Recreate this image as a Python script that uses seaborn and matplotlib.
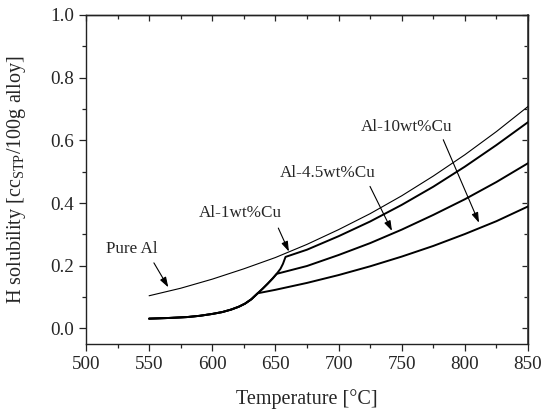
import matplotlib
matplotlib.use("Agg")
import matplotlib.pyplot as plt
import seaborn as sns
import pandas as pd

# ---- data ----
T_pure = [550, 575, 600, 625, 650, 675, 700, 725, 750, 775, 800, 825, 850]
S_pure = [0.104, 0.128, 0.157, 0.190, 0.226, 0.268, 0.315, 0.366, 0.423, 0.486, 0.554, 0.628, 0.708]

# common (partially solid) branch shared by the alloys
T_low = [550, 565, 580, 590, 600, 608, 615, 621, 626, 631, 636, 640, 644, 648, 651, 654, 656, 658]
S_low = [0.031, 0.033, 0.036, 0.040, 0.046, 0.052, 0.060, 0.069, 0.079, 0.093, 0.112, 0.127, 0.143, 0.160, 0.174, 0.190, 0.206, 0.228]

T_cu1 = [658, 675, 700, 725, 750, 775, 800, 825, 850]
S_cu1 = [0.228, 0.251, 0.294, 0.341, 0.394, 0.452, 0.516, 0.585, 0.658]

T_cu45 = [651, 675, 700, 725, 750, 775, 800, 825, 850]
S_cu45 = [0.174, 0.199, 0.234, 0.272, 0.315, 0.362, 0.412, 0.467, 0.527]

T_cu10 = [636, 650, 675, 700, 725, 750, 775, 800, 825, 850]
S_cu10 = [0.112, 0.123, 0.145, 0.170, 0.198, 0.229, 0.263, 0.301, 0.342, 0.389]

labels = ["Pure Al", "Al-1wt%Cu", "Al-4.5wt%Cu", "Al-10wt%Cu"]
label_pos = [(536.4, 0.254), (621.9, 0.369), (691.6, 0.496), (754.2, 0.643)]
arrow_start = [(553.8, 0.209), (652.3, 0.320), (724.9, 0.453), (782.9, 0.602)]
arrow_tip = [(565.2, 0.131), (660.7, 0.245), (742.3, 0.311), (811.2, 0.337)]

x_ticks = [500, 550, 600, 650, 700, 750, 800, 850]
y_ticks = [0.0, 0.2, 0.4, 0.6, 0.8, 1.0]

# ---- style ----
sns.set_style("ticks")
plt.rcParams['font.family'] = ['Liberation Serif', 'DejaVu Serif']
plt.rcParams['mathtext.fontset'] = 'custom'
plt.rcParams['mathtext.rm'] = 'Liberation Serif'
plt.rcParams['mathtext.it'] = 'Liberation Serif:italic'

fig = plt.figure(figsize=(5.44, 4.12), dpi=100)
ax = fig.add_axes([0.158, 0.165, 0.8126, 0.7986])

def seg(t_a, s_a, name):
    return pd.DataFrame({"T": t_a, "S": s_a, "series": name})

df_pure = seg(T_pure, S_pure, labels[0])
df_cu1 = seg(T_low + T_cu1[1:], S_low + S_cu1[1:], labels[1])
n45 = T_low.index(651)
df_cu45 = seg(T_low[:n45 + 1] + T_cu45[1:], S_low[:n45 + 1] + S_cu45[1:], labels[2])
n10 = T_low.index(636)
df_cu10 = seg(T_low[:n10 + 1] + T_cu10[1:], S_low[:n10 + 1] + S_cu10[1:], labels[3])

sns.lineplot(data=df_pure, x="T", y="S", color="black", lw=0.8, sort=False, estimator=None, ax=ax)
for d in (df_cu10, df_cu45, df_cu1):
    sns.lineplot(data=d, x="T", y="S", color="black", lw=1.4, sort=False, estimator=None, ax=ax)

for lab, lp, st, tp in zip(labels, label_pos, arrow_start, arrow_tip):
    ax.text(lp[0], lp[1], lab, ha="center", va="center", fontsize=12.3)
    ax.annotate("", xy=tp, xytext=st,
                arrowprops=dict(arrowstyle="-|>,head_length=0.6,head_width=0.2",
                                color="black", lw=0.8, shrinkA=0, shrinkB=0))

ax.set_xlim(500, 850)
ax.set_ylim(-0.05, 1.0)
ax.set_xticks(x_ticks)
ax.set_yticks(y_ticks)
ax.set_yticklabels([f"{v:.1f}" for v in y_ticks])
ax.set_xticks([525, 575, 625, 675, 725, 775, 825], minor=True)
ax.set_yticks([0.1, 0.3, 0.5, 0.7, 0.9], minor=True)
ax.tick_params(axis="both", which="major", labelsize=13.8, direction="out", length=5, width=0.9, color="#222222")
ax.tick_params(axis="both", which="minor", direction="out", length=3, width=0.9, color="#222222")

# mirrored inward ticks on top/right
axt = ax.secondary_xaxis("top")
axt.set_xticks(x_ticks)
axt.set_xticks([525, 575, 625, 675, 725, 775, 825], minor=True)
axt.tick_params(which="both", direction="in", labeltop=False, length=4, width=0.9)
axt.tick_params(which="minor", length=3)
axt.set_xticklabels([])
axr = ax.secondary_yaxis("right")
axr.set_yticks(y_ticks)
axr.set_yticks([0.1, 0.3, 0.5, 0.7, 0.9], minor=True)
axr.tick_params(which="both", direction="in", length=4, width=0.9)
axr.tick_params(which="minor", length=3)
axr.set_yticklabels([])

for sp in ax.spines.values():
    sp.set_visible(True)
    sp.set_linewidth(1.0)
    sp.set_color("#222222")
axt.spines["top"].set_linewidth(1.0)
axr.spines["right"].set_linewidth(1.4)
axr.spines["right"].set_color("#555555")

ax.set_xlabel("Temperature [°C]", fontsize=14.5, labelpad=12)
ax.set_ylabel(r"H solubility [cc$_{\mathrm{STP}}$/100g alloy]", fontsize=14.5, labelpad=16)

fig.savefig("out.png", dpi=100)
